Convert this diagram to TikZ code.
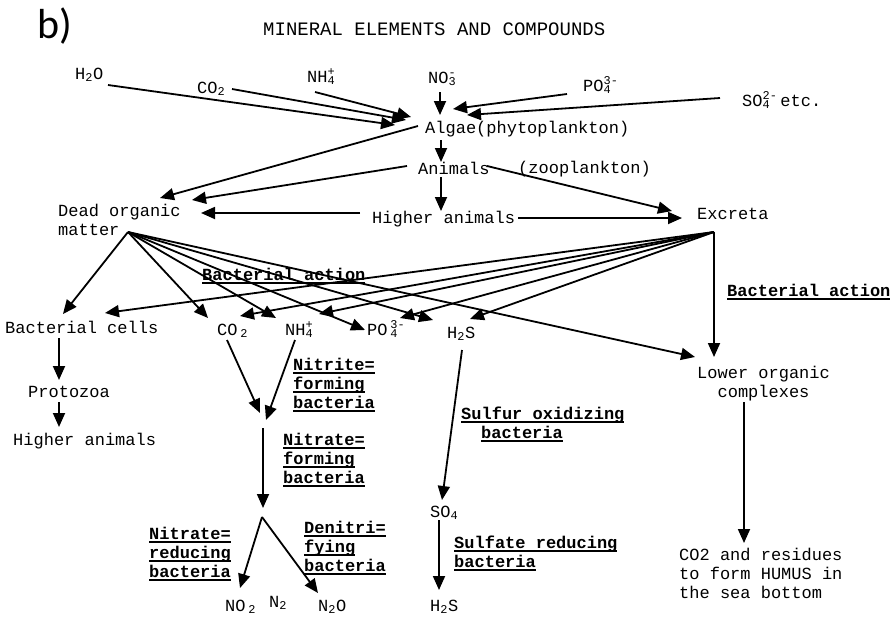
\documentclass[tikz,border=0pt]{standalone}
\usepackage{fontspec}
\setmainfont{Liberation Mono}
\newfontfamily\bfont{Carlito}
\usetikzlibrary{arrows.meta}
\newcommand\ulx[1]{\setbox0\hbox{#1}\rlap{\rule[-4pt]{\wd0}{1.6pt}}\box0}
\newcommand\ionz[2]{\rlap{\textsuperscript{#2}}\textsubscript{#1}}
\begin{document}
\begin{tikzpicture}[x=1pt,y=-1pt,
  txt/.style={anchor=base west, inner sep=0pt, font=\fontsize{17}{19}\selectfont},
  mtxt/.style={txt, align=left},
  lbl/.style={txt, align=left, font=\fontsize{17}{19}\selectfont\bfseries},
  arr/.style={-{Triangle[length=14pt,width=12pt]}, line width=1.8pt},
  ]
\useasboundingbox[fill=white] (0,0) rectangle (891,618);
% ---------- texts (multi-line nodes are placed by the baseline of their last line) ----------
\node[txt, font=\bfont\fontsize{42}{44}\selectfont] (b) at (37,38) {b)};
\node[txt, font=\fontsize{19}{21}\selectfont] (title) at (263,36) {MINERAL ELEMENTS AND COMPOUNDS};
\node[txt] (h2o) at (75,79) {H\textsubscript{2}O};
\node[txt] (co2a) at (197,93) {CO\textsubscript{2}};
\node[txt] (nh4a) at (307,82) {NH\ionz{4}{+}};
\node[txt] (no3) at (428,83) {NO\ionz{3}{-}};
\node[txt] (po4a) at (583,91) {PO\ionz{4}{3-}};
\node[txt] (so4a) at (742,106) {SO\ionz{4}{2-} etc.};
\node[txt] (algae) at (425,133) {Algae(phytoplankton)};
\node[txt] (animals) at (418,174) {Animals};
\node[txt] (zoo) at (518,173) {(zooplankton)};
\node[mtxt] (dead) at (58,235) {Dead organic\\matter};
\node[txt] (higher) at (372,223) {Higher animals};
\node[txt] (excreta) at (697,219) {Excreta};
\node[lbl] (bact1) at (202,280) {\ulx{Bacterial action}};
\node[lbl] (bact2) at (727,296) {\ulx{Bacterial action}};
\node[txt] (bcells) at (5,333) {Bacterial cells};
\node[txt] (co2b) at (217,335) {CO\,\textsubscript{2}};
\node[txt] (nh4b) at (285,335) {NH\ionz{4}{+}};
\node[txt] (po4b) at (367,335) {PO\,\ionz{4}{3-}};
\node[txt] (h2sa) at (447,338) {H\textsubscript{2}S};
\node[txt] (proto) at (28,397) {Protozoa};
\node[txt] (higher2) at (13,445) {Higher animals};
\node[lbl] (nitrite) at (293,408) {\ulx{Nitrite=}\\\ulx{forming}\\\ulx{bacteria}};
\node[lbl] (nitrateF) at (283,483) {\ulx{Nitrate=}\\\ulx{forming}\\\ulx{bacteria}};
\node[lbl] (nitrateR) at (149,577) {\ulx{Nitrate=}\\\ulx{reducing}\\\ulx{bacteria}};
\node[lbl] (denit) at (304,571) {\ulx{Denitri=}\\\ulx{fying}\\\ulx{bacteria}};
\node[txt] (no2) at (225,611) {NO\,\textsubscript{2}};
\node[txt] (n2) at (269,607) {N\textsubscript{2}};
\node[txt] (n2o) at (318,611) {N\textsubscript{2}O};
\node[txt] (so4b) at (430,517) {SO\textsubscript{4}};
\node[txt] (h2sb) at (430,611) {H\textsubscript{2}S};
\node[lbl] (sox) at (461,438) {\ulx{Sulfur oxidizing}\\\hspace{20pt}\ulx{bacteria}};
\node[lbl] (sred) at (454,567) {\ulx{Sulfate reducing}\\\ulx{bacteria}};
\node[txt, align=center] (lower) at (697,397) {Lower organic\\complexes};
\node[mtxt] (humus) at (679,598) {CO2 and residues\\to form HUMUS in\\the sea bottom};
% ---------- connection points ----------
\coordinate (D) at (128,232);
\coordinate (E) at (714,232);
\coordinate (h2oOut) at (108,85);   \coordinate (algIn1) at (395,125);
\coordinate (co2Out) at (232,89);   \coordinate (algIn2) at (406,120);
\coordinate (nh4Out) at (315,92);   \coordinate (algIn3) at (411,117);
\coordinate (no3Out) at (440,92);   \coordinate (algIn4) at (440,115);
\coordinate (po4Out) at (567,94);   \coordinate (algIn5) at (453,109);
\coordinate (so4Out) at (720,98);   \coordinate (algIn6) at (467,115);
\coordinate (algOutL) at (418,126); \coordinate (deadIn1) at (160,198);
\coordinate (algOutD) at (441,140); \coordinate (aniIn) at (441,162);
\coordinate (aniOutL) at (407,166); \coordinate (deadIn2) at (192,200);
\coordinate (aniOutD) at (441,177); \coordinate (higIn) at (441,211);
\coordinate (aniOutR) at (487,166); \coordinate (excIn1) at (672,211);
\coordinate (higOutL) at (360,213); \coordinate (deadIn3) at (201,213);
\coordinate (higOutR) at (518,218); \coordinate (excIn2) at (682,218);
\coordinate (bcIn1) at (63,314);    \coordinate (bcIn2) at (105,313);
\coordinate (co2In1) at (208,318);  \coordinate (co2In2) at (240,316);
\coordinate (nh4In1) at (276,318);  \coordinate (nh4In2) at (319,314);
\coordinate (po4In1) at (365,330);  \coordinate (po4In2) at (400,318);
\coordinate (h2sIn1) at (433,320);  \coordinate (h2sIn2) at (470,319);
\coordinate (lowIn1) at (695,357);  \coordinate (lowIn2) at (714,357);
\coordinate (bcOut) at (59,338);    \coordinate (proIn) at (59,380);
\coordinate (proOut) at (59,402);   \coordinate (hig2In) at (59,427);
\coordinate (co2Down) at (227,340); \coordinate (nitA) at (260,413);
\coordinate (nh4Down) at (295,340); \coordinate (nitB) at (266,420);
\coordinate (nitC) at (263,428);    \coordinate (nitD) at (263,508);
\coordinate (split) at (262,517);
\coordinate (no2In) at (240,588);   \coordinate (n2oIn) at (318,593);
\coordinate (h2sDown) at (462,350); \coordinate (so4In) at (442,500);
\coordinate (so4Down) at (439,520); \coordinate (h2sbIn) at (439,590);
\coordinate (lowDown) at (744,402); \coordinate (humIn) at (744,543);
% ---------- arrows ----------
\draw[arr] (h2oOut) -- (algIn1);
\draw[arr] (co2Out) -- (algIn2);
\draw[arr] (nh4Out) -- (algIn3);
\draw[arr] (no3Out) -- (algIn4);
\draw[arr] (po4Out) -- (algIn5);
\draw[arr] (so4Out) -- (algIn6);
\draw[arr] (algOutL) -- (deadIn1);
\draw[arr] (algOutD) -- (aniIn);
\draw[arr] (aniOutL) -- (deadIn2);
\draw[arr] (aniOutD) -- (higIn);
\draw[arr] (aniOutR) -- (excIn1);
\draw[arr] (higOutL) -- (deadIn3);
\draw[arr] (higOutR) -- (excIn2);
\foreach \t in {bcIn1,co2In1,nh4In1,po4In1,h2sIn1,lowIn1} \draw[arr] (D) -- (\t);
\foreach \t in {bcIn2,co2In2,nh4In2,po4In2,h2sIn2,lowIn2} \draw[arr] (E) -- (\t);
\draw[arr] (bcOut) -- (proIn);
\draw[arr] (proOut) -- (hig2In);
\draw[arr] (co2Down) -- (nitA);
\draw[arr] (nh4Down) -- (nitB);
\draw[arr] (nitC) -- (nitD);
\draw[arr] (split) -- (no2In);
\draw[arr] (split) -- (n2oIn);
\draw[arr] (h2sDown) -- (so4In);
\draw[arr] (so4Down) -- (h2sbIn);
\draw[arr] (lowDown) -- (humIn);
\end{tikzpicture}
\end{document}
